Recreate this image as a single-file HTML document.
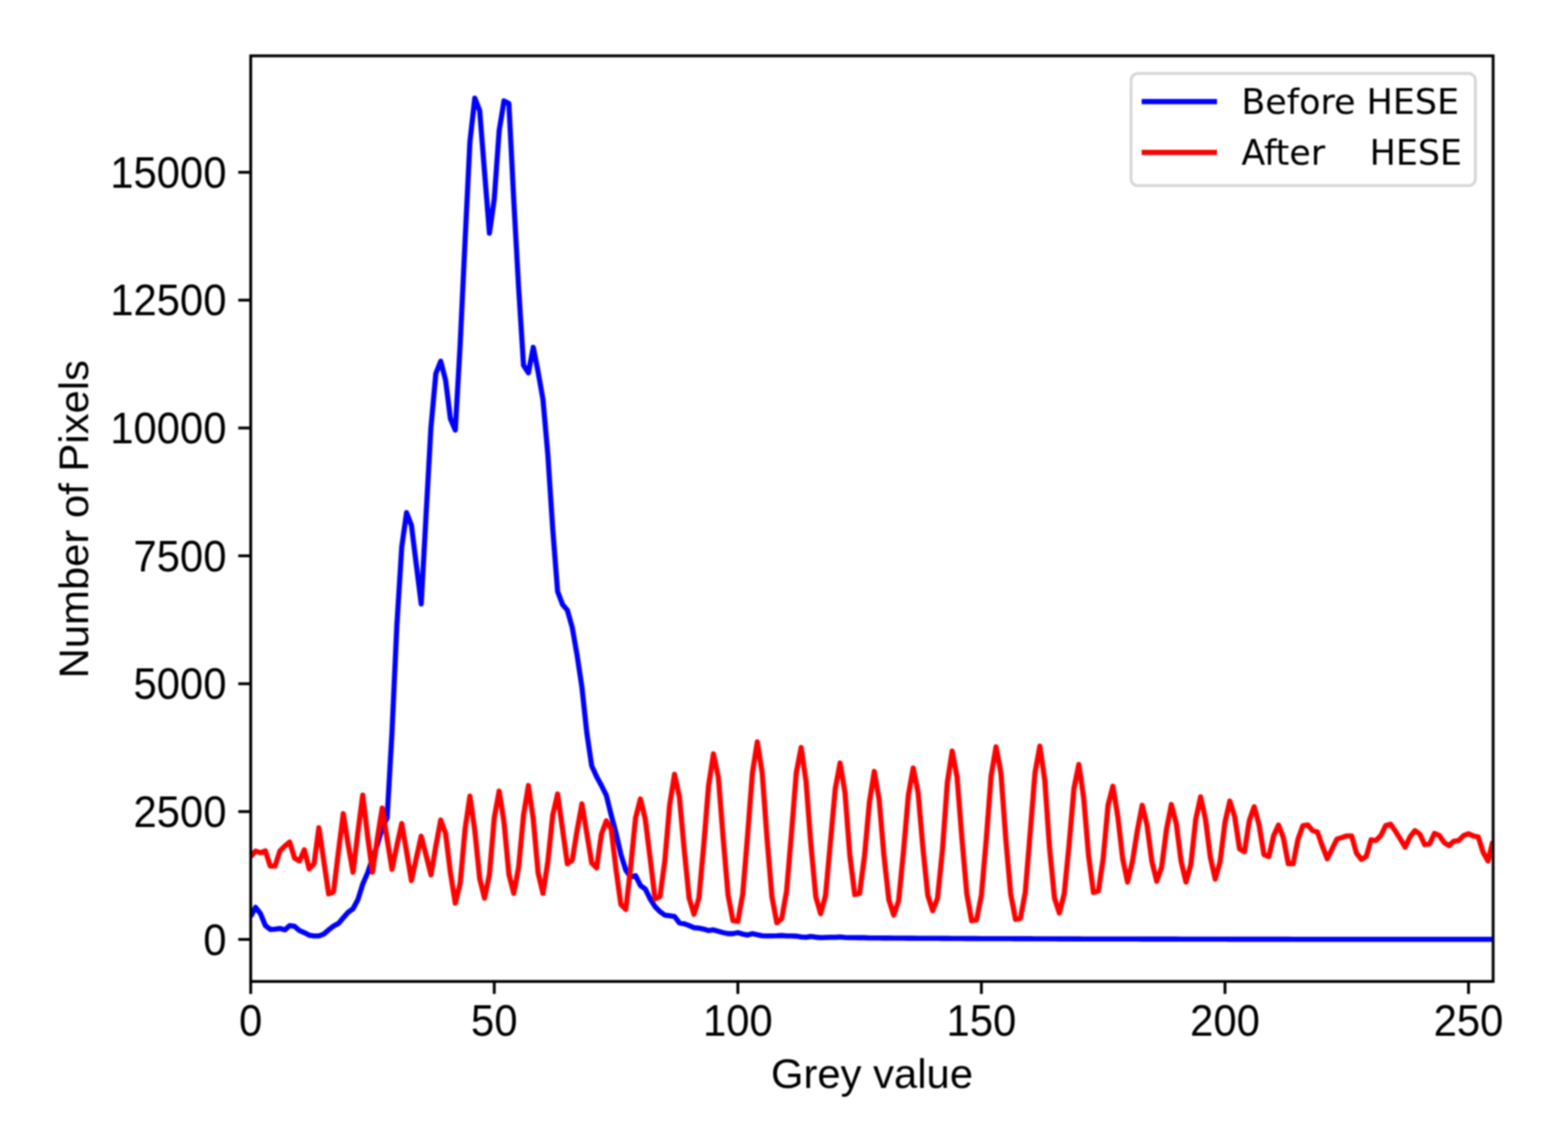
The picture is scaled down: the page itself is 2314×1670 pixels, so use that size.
<!DOCTYPE html>
<html lang="en"><head><meta charset="utf-8"><title>Histogram before and after HESE</title>
<style>html,body{margin:0;padding:0;background:#fff;}body{width:2314px;height:1670px;overflow:hidden;}svg{display:block;filter:blur(1.00px);}text{font-family:"Liberation Sans",Arial,sans-serif;fill:#000;white-space:pre;}.lg{font-family:"DejaVu Sans","Liberation Sans",sans-serif;}</style></head><body>
<svg width="2314" height="1670" viewBox="0 0 2314 1670">
<rect width="2314" height="1670" fill="#fff"/>
<defs><clipPath id="ax"><rect x="370.0" y="82.4" width="1833.5" height="1365.5"/></clipPath></defs>
<g clip-path="url(#ax)">
<polyline points="370.0,1352.0 377.2,1338.5 384.4,1347.9 391.6,1365.5 398.8,1371.1 405.9,1370.7 413.1,1369.7 420.3,1371.8 427.5,1365.5 434.7,1366.6 441.9,1372.8 449.1,1375.9 456.3,1379.7 463.5,1380.7 470.6,1380.7 477.8,1378.0 485.0,1371.8 492.2,1366.2 499.4,1362.4 506.6,1354.1 513.8,1345.8 521.0,1340.6 528.2,1327.1 535.3,1304.3 542.5,1287.7 549.7,1266.9 556.9,1246.1 564.1,1221.2 571.3,1206.7 578.5,1080.3 585.7,922.1 592.9,806.8 600.0,756.3 607.2,775.1 614.4,833.4 621.6,890.9 628.8,759.2 636.0,630.3 643.2,551.2 650.4,532.9 657.6,560.9 664.7,617.8 671.9,634.6 679.1,508.0 686.3,356.0 693.5,209.1 700.7,144.7 707.9,163.2 715.1,254.1 722.3,343.9 729.4,293.8 736.6,193.2 743.8,148.9 751.0,152.6 758.2,295.6 765.4,425.0 772.6,538.9 779.8,550.0 787.0,512.4 794.1,548.6 801.3,589.4 808.5,670.9 815.7,780.4 822.9,872.5 830.1,891.7 837.3,900.1 844.5,925.7 851.6,966.3 858.8,1014.0 866.0,1081.1 873.2,1129.7 880.4,1145.6 887.6,1158.9 894.8,1173.4 902.0,1202.5 909.2,1229.5 916.3,1260.7 923.5,1283.5 930.7,1293.9 937.9,1291.8 945.1,1306.3 952.3,1311.5 959.5,1326.1 966.7,1337.5 973.9,1344.8 981.0,1350.0 988.2,1351.0 995.4,1352.0 1002.6,1361.4 1009.8,1362.8 1017.0,1365.5 1024.2,1368.6 1031.4,1369.3 1038.6,1370.7 1045.7,1372.8 1052.9,1371.8 1060.1,1373.8 1067.3,1375.9 1074.5,1377.4 1081.7,1377.4 1088.9,1375.9 1096.1,1378.0 1103.3,1379.4 1110.4,1377.4 1117.6,1379.0 1124.8,1380.5 1132.0,1380.7 1139.2,1380.7 1146.4,1380.5 1153.6,1380.1 1160.8,1380.7 1168.0,1380.7 1175.1,1381.1 1182.3,1382.3 1189.5,1382.8 1196.7,1381.5 1203.9,1382.6 1211.1,1383.2 1218.3,1383.0 1225.5,1382.8 1232.7,1382.8 1239.8,1382.3 1247.0,1383.0 1254.2,1383.2 1261.4,1383.2 1268.6,1383.4 1275.8,1383.4 1283.0,1383.7 1290.2,1383.7 1297.4,1383.8 1304.5,1383.9 1311.7,1383.9 1318.9,1384.0 1326.1,1384.0 1333.3,1384.0 1340.5,1384.1 1347.7,1384.1 1354.9,1384.2 1362.1,1384.2 1369.2,1384.3 1376.4,1384.3 1383.6,1384.3 1390.8,1384.4 1398.0,1384.4 1405.2,1384.5 1412.4,1384.5 1419.6,1384.5 1426.8,1384.6 1433.9,1384.6 1441.1,1384.6 1448.3,1384.7 1455.5,1384.7 1462.7,1384.7 1469.9,1384.7 1477.1,1384.8 1484.3,1384.8 1491.5,1384.8 1498.6,1384.9 1505.8,1384.9 1513.0,1384.9 1520.2,1384.9 1527.4,1385.0 1534.6,1385.0 1541.8,1385.0 1549.0,1385.0 1556.2,1385.0 1563.3,1385.1 1570.5,1385.1 1577.7,1385.1 1584.9,1385.1 1592.1,1385.1 1599.3,1385.2 1606.5,1385.2 1613.7,1385.2 1620.9,1385.2 1628.0,1385.2 1635.2,1385.3 1642.4,1385.3 1649.6,1385.3 1656.8,1385.3 1664.0,1385.3 1671.2,1385.3 1678.4,1385.3 1685.6,1385.4 1692.7,1385.4 1699.9,1385.4 1707.1,1385.4 1714.3,1385.4 1721.5,1385.4 1728.7,1385.4 1735.9,1385.4 1743.1,1385.5 1750.2,1385.5 1757.4,1385.5 1764.6,1385.5 1771.8,1385.5 1779.0,1385.5 1786.2,1385.5 1793.4,1385.5 1800.6,1385.5 1807.8,1385.5 1814.9,1385.6 1822.1,1385.6 1829.3,1385.6 1836.5,1385.6 1843.7,1385.6 1850.9,1385.6 1858.1,1385.6 1865.3,1385.6 1872.5,1385.6 1879.6,1385.6 1886.8,1385.6 1894.0,1385.6 1901.2,1385.6 1908.4,1385.7 1915.6,1385.7 1922.8,1385.7 1930.0,1385.7 1937.2,1385.7 1944.3,1385.7 1951.5,1385.7 1958.7,1385.7 1965.9,1385.7 1973.1,1385.7 1980.3,1385.7 1987.5,1385.7 1994.7,1385.7 2001.9,1385.7 2009.0,1385.7 2016.2,1385.7 2023.4,1385.7 2030.6,1385.7 2037.8,1385.7 2045.0,1385.7 2052.2,1385.7 2059.4,1385.7 2066.6,1385.8 2073.7,1385.8 2080.9,1385.8 2088.1,1385.8 2095.3,1385.8 2102.5,1385.8 2109.7,1385.8 2116.9,1385.8 2124.1,1385.8 2131.3,1385.8 2138.4,1385.8 2145.6,1385.8 2152.8,1385.8 2160.0,1385.8 2167.2,1385.8 2174.4,1385.8 2181.6,1385.8 2188.8,1385.8 2196.0,1385.8 2203.1,1385.8" fill="none" stroke="#0000ff" stroke-width="7.60" stroke-linejoin="round" stroke-linecap="butt"/>
<polyline points="370.0,1263.8 377.2,1255.5 384.4,1258.0 391.6,1255.2 398.8,1277.7 405.9,1277.7 413.1,1255.5 420.3,1248.2 427.5,1242.3 434.7,1265.9 441.9,1270.1 449.1,1253.7 456.3,1281.9 463.5,1274.2 470.6,1221.2 477.8,1270.0 485.0,1318.8 492.2,1315.7 499.4,1256.5 506.6,1200.4 513.8,1246.1 521.0,1286.8 528.2,1227.4 535.3,1173.0 542.5,1233.7 549.7,1286.8 556.9,1236.8 564.1,1192.1 571.3,1237.8 578.5,1282.5 585.7,1247.2 592.9,1215.0 600.0,1256.5 607.2,1299.0 614.4,1265.9 621.6,1233.7 628.8,1261.7 636.0,1290.7 643.2,1248.2 650.4,1209.8 657.6,1229.5 664.7,1287.7 671.9,1332.3 679.1,1303.2 686.3,1223.3 693.5,1174.5 700.7,1225.4 707.9,1296.0 715.1,1325.0 722.3,1289.7 729.4,1206.7 736.6,1167.2 743.8,1212.9 751.0,1289.7 758.2,1317.8 765.4,1279.3 772.6,1202.5 779.8,1158.9 787.0,1208.8 794.1,1287.7 801.3,1317.8 808.5,1271.0 815.7,1202.5 822.9,1171.4 830.1,1223.3 837.3,1274.2 844.5,1269.0 851.6,1225.4 858.8,1185.9 866.0,1229.5 873.2,1273.1 880.4,1280.4 887.6,1230.5 894.8,1210.8 902.0,1223.3 909.2,1283.5 916.3,1334.4 923.5,1341.6 930.7,1279.3 937.9,1206.7 945.1,1178.6 952.3,1208.8 959.5,1266.9 966.7,1326.1 973.9,1323.0 981.0,1271.0 988.2,1188.0 995.4,1142.3 1002.6,1175.5 1009.8,1254.4 1017.0,1325.0 1024.2,1348.9 1031.4,1325.0 1038.6,1246.1 1045.7,1158.9 1052.9,1112.2 1060.1,1146.5 1067.3,1237.8 1074.5,1320.9 1081.7,1358.3 1088.9,1359.3 1096.1,1318.8 1103.3,1231.6 1110.4,1140.2 1117.6,1094.5 1124.8,1140.2 1132.0,1237.8 1139.2,1323.0 1146.4,1361.4 1153.6,1355.1 1160.8,1314.7 1168.0,1229.5 1175.1,1140.2 1182.3,1102.8 1189.5,1152.7 1196.7,1246.1 1203.9,1323.0 1211.1,1347.9 1218.3,1320.9 1225.5,1242.0 1232.7,1163.1 1239.8,1125.7 1247.0,1169.3 1254.2,1262.7 1261.4,1319.8 1268.6,1317.8 1275.8,1262.7 1283.0,1183.8 1290.2,1138.1 1297.4,1179.7 1304.5,1262.7 1311.7,1327.1 1318.9,1350.0 1326.1,1329.2 1333.3,1256.5 1340.5,1173.4 1347.7,1133.0 1354.9,1169.3 1362.1,1252.4 1369.2,1320.9 1376.4,1343.7 1383.6,1325.0 1390.8,1254.4 1398.0,1154.8 1405.2,1108.0 1412.4,1146.5 1419.6,1237.8 1426.8,1318.8 1433.9,1358.3 1441.1,1357.2 1448.3,1320.9 1455.5,1237.8 1462.7,1144.4 1469.9,1101.8 1477.1,1140.2 1484.3,1237.8 1491.5,1318.8 1498.6,1356.2 1505.8,1355.1 1513.0,1316.7 1520.2,1229.5 1527.4,1140.2 1534.6,1100.8 1541.8,1150.6 1549.0,1252.4 1556.2,1325.0 1563.3,1346.8 1570.5,1318.8 1577.7,1246.1 1584.9,1163.1 1592.1,1127.8 1599.3,1177.6 1606.5,1262.7 1613.7,1316.7 1620.9,1314.7 1628.0,1266.9 1635.2,1188.0 1642.4,1159.9 1649.6,1204.6 1656.8,1266.9 1664.0,1301.2 1671.2,1271.0 1678.4,1225.4 1685.6,1188.0 1692.7,1217.1 1699.9,1271.0 1707.1,1300.1 1714.3,1279.3 1721.5,1223.3 1728.7,1186.9 1735.9,1215.0 1743.1,1271.0 1750.2,1301.2 1757.4,1275.2 1764.6,1208.8 1771.8,1175.5 1779.0,1208.8 1786.2,1264.8 1793.4,1297.0 1800.6,1271.0 1807.8,1212.9 1814.9,1181.8 1822.1,1204.6 1829.3,1252.4 1836.5,1256.5 1843.7,1210.8 1850.9,1190.1 1858.1,1217.1 1865.3,1260.7 1872.5,1263.8 1879.6,1232.8 1886.8,1217.1 1894.0,1236.2 1901.2,1274.2 1908.4,1274.2 1915.6,1237.8 1922.8,1218.1 1930.0,1217.1 1937.2,1225.4 1944.3,1227.4 1951.5,1248.2 1958.7,1266.9 1965.9,1252.4 1973.1,1237.8 1980.3,1235.7 1987.5,1233.2 1994.7,1233.2 2001.9,1258.6 2009.0,1267.9 2016.2,1263.8 2023.4,1238.9 2030.6,1239.9 2037.8,1232.6 2045.0,1218.0 2052.2,1215.9 2059.4,1226.4 2066.6,1237.8 2073.7,1249.7 2080.9,1234.7 2088.1,1225.4 2095.3,1230.5 2102.5,1246.1 2109.7,1245.1 2116.9,1229.5 2124.1,1232.6 2131.3,1243.0 2138.4,1247.6 2145.6,1240.9 2152.8,1239.9 2160.0,1232.6 2167.2,1230.1 2174.4,1233.2 2181.6,1234.7 2188.8,1257.5 2196.0,1270.0 2203.1,1241.4" fill="none" stroke="#ff0000" stroke-width="7.60" stroke-linejoin="round" stroke-linecap="butt"/>
</g>
<g stroke="#000" stroke-width="4.2">
<line x1="370.0" x2="370.0" y1="1447.9" y2="1466.3"/>
<line x1="729.4" x2="729.4" y1="1447.9" y2="1466.3"/>
<line x1="1088.9" x2="1088.9" y1="1447.9" y2="1466.3"/>
<line x1="1448.3" x2="1448.3" y1="1447.9" y2="1466.3"/>
<line x1="1807.8" x2="1807.8" y1="1447.9" y2="1466.3"/>
<line x1="2167.2" x2="2167.2" y1="1447.9" y2="1466.3"/>
<line x1="351.6" x2="370.0" y1="1385.9" y2="1385.9"/>
<line x1="351.6" x2="370.0" y1="1197.3" y2="1197.3"/>
<line x1="351.6" x2="370.0" y1="1008.7" y2="1008.7"/>
<line x1="351.6" x2="370.0" y1="820.0" y2="820.0"/>
<line x1="351.6" x2="370.0" y1="631.4" y2="631.4"/>
<line x1="351.6" x2="370.0" y1="442.8" y2="442.8"/>
<line x1="351.6" x2="370.0" y1="254.2" y2="254.2"/>
</g>
<rect x="370.0" y="82.4" width="1833.5" height="1365.5" fill="none" stroke="#000" stroke-width="4.2"/>
<text transform="translate(370.0 1528.1) scale(1 1.040)" font-size="61.7" text-anchor="middle" xml:space="preserve">0</text>
<text transform="translate(729.4 1528.1) scale(1 1.040)" font-size="61.7" text-anchor="middle" xml:space="preserve">50</text>
<text transform="translate(1088.9 1528.1) scale(1 1.040)" font-size="61.7" text-anchor="middle" xml:space="preserve">100</text>
<text transform="translate(1448.3 1528.1) scale(1 1.040)" font-size="61.7" text-anchor="middle" xml:space="preserve">150</text>
<text transform="translate(1807.8 1528.1) scale(1 1.040)" font-size="61.7" text-anchor="middle" xml:space="preserve">200</text>
<text transform="translate(2167.2 1528.1) scale(1 1.040)" font-size="61.7" text-anchor="middle" xml:space="preserve">250</text>
<text transform="translate(334.2 1408.5) scale(1 1.040)" font-size="61.7" text-anchor="end" xml:space="preserve">0</text>
<text transform="translate(334.2 1219.9) scale(1 1.040)" font-size="61.7" text-anchor="end" xml:space="preserve">2500</text>
<text transform="translate(334.2 1031.2) scale(1 1.040)" font-size="61.7" text-anchor="end" xml:space="preserve">5000</text>
<text transform="translate(334.2 842.6) scale(1 1.040)" font-size="61.7" text-anchor="end" xml:space="preserve">7500</text>
<text transform="translate(334.2 654.0) scale(1 1.040)" font-size="61.7" text-anchor="end" xml:space="preserve">10000</text>
<text transform="translate(334.2 465.4) scale(1 1.040)" font-size="61.7" text-anchor="end" xml:space="preserve">12500</text>
<text transform="translate(334.2 276.8) scale(1 1.040)" font-size="61.7" text-anchor="end" xml:space="preserve">15000</text>
<text transform="translate(1286.8 1605.3)" font-size="61.7" text-anchor="middle" xml:space="preserve">Grey value</text>
<text transform="translate(129.5 766.0) rotate(-90)" font-size="61.7" text-anchor="middle" xml:space="preserve">Number of Pixels</text>
<rect x="1669.2" y="108.3" width="508.1" height="165.6" rx="10" ry="10" fill="#fff" fill-opacity="0.8" stroke="#cccccc" stroke-opacity="0.8" stroke-width="4.2"/>
<line x1="1684.8" x2="1796" y1="149.9" y2="149.9" stroke="#0000ff" stroke-width="7.60"/>
<line x1="1684.8" x2="1796" y1="224.9" y2="224.9" stroke="#ff0000" stroke-width="7.60"/>
<text class="lg" transform="translate(1832.0 167.6)" font-size="51.5" text-anchor="start" xml:space="preserve">Before HESE</text>
<text class="lg" transform="translate(1832.0 243.3)" font-size="51.5" text-anchor="start" xml:space="preserve">After    HESE</text>
</svg></body></html>
